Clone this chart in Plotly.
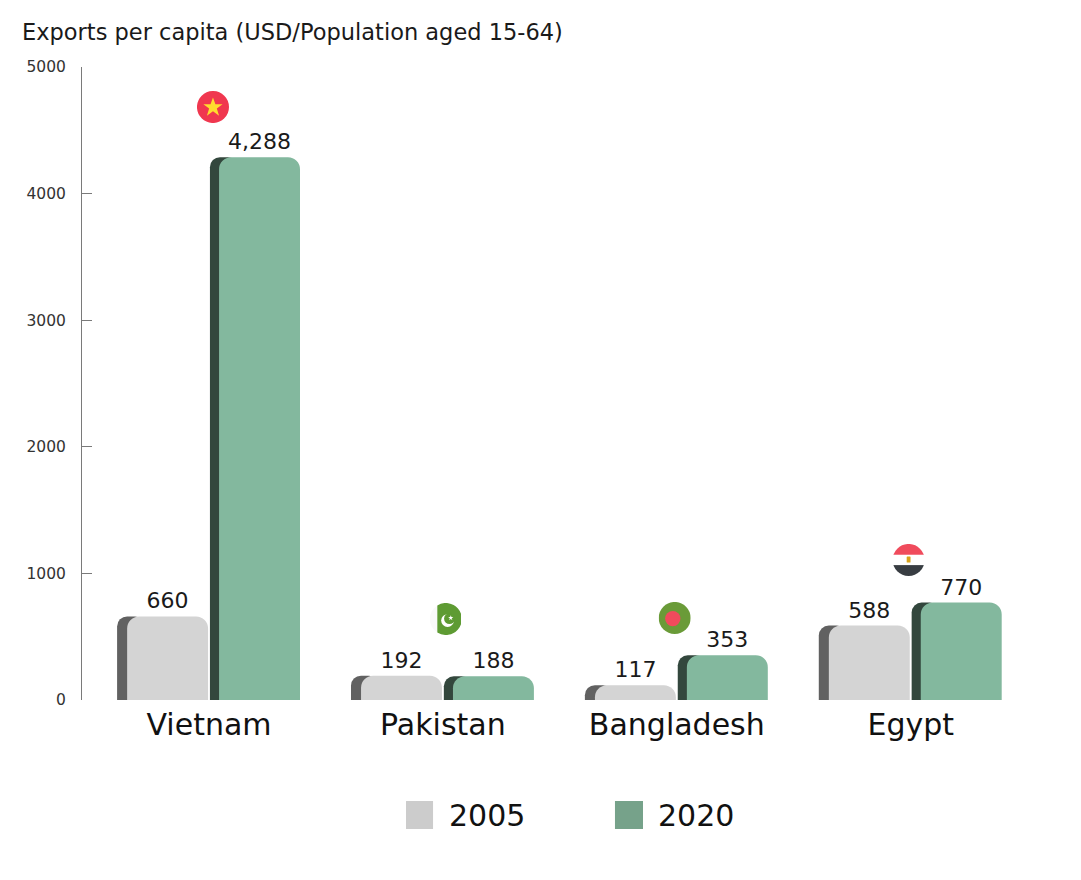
import base64
import plotly.graph_objects as go

# data
countries = ["Vietnam", "Pakistan", "Bangladesh", "Egypt"]
years = ["2005", "2020"]
exports_2005 = [660, 192, 117, 588]
exports_2020 = [4288, 188, 353, 770]
y_ticks = [0, 1000, 2000, 3000, 4000, 5000]

# face / side colours per year
face_colors = {"2005": "#d4d4d4", "2020": "#83b89e"}
side_colors = {"2005": "#616161", "2020": "#33473d"}
legend_colors = {"2005": "#cccccc", "2020": "#76a28a"}

FONT = "DejaVu Sans"

# small round flags as svg
FLAG_SVG = {
    "Vietnam": (
        "<svg xmlns='http://www.w3.org/2000/svg' viewBox='0 0 100 100'>"
        "<circle cx='50' cy='50' r='50' fill='#f0374f'/>"
        "<polygon points='50,20 57.6,41.5 80,41.5 62,55 69,77 50,63.5 31,77 38,55 20,41.5 42.4,41.5' fill='#ffdc2e'/>"
        "</svg>"
    ),
    "Pakistan": (
        "<svg xmlns='http://www.w3.org/2000/svg' viewBox='0 0 100 100'>"
        "<path d='M26,7.6 A50,50 0 0,0 26,92.4 Z' fill='#f9f9f9'/>"
        "<path d='M26,7.6 A50,50 0 1,1 26,92.4 Z' fill='#5e9b33'/>"
        "<circle cx='58' cy='55' r='20' fill='#ffffff'/>"
        "<circle cx='64' cy='49' r='17' fill='#5e9b33'/>"
        "<polygon points='68,38 70,44 76,44 71,48 73,54 68,50 63,54 65,48 60,44 66,44' fill='#ffffff'/>"
        "</svg>"
    ),
    "Bangladesh": (
        "<svg xmlns='http://www.w3.org/2000/svg' viewBox='0 0 100 100'>"
        "<circle cx='50' cy='50' r='50' fill='#6a9b38'/>"
        "<circle cx='44' cy='52' r='24' fill='#f04b5c'/>"
        "</svg>"
    ),
    "Egypt": (
        "<svg xmlns='http://www.w3.org/2000/svg' viewBox='0 0 100 100'>"
        "<defs><clipPath id='c'><circle cx='50' cy='50' r='50'/></clipPath></defs>"
        "<g clip-path='url(#c)'>"
        "<rect x='0' y='0' width='100' height='34' fill='#f04b5c'/>"
        "<rect x='0' y='34' width='100' height='32' fill='#ffffff'/>"
        "<rect x='0' y='66' width='100' height='34' fill='#383d42'/>"
        "</g>"
        "<rect x='44' y='39' width='12' height='19' rx='2' fill='#d9a31a'/>"
        "</svg>"
    ),
}

xpos = list(range(len(countries)))

fig = go.Figure()

series = {"2005": exports_2005, "2020": exports_2020}
# bar placement inside each group (x units)
face_offset = {"2005": -0.350, "2020": 0.043}
side_offset = {"2005": -0.393, "2020": 0.004}

for yr in years:
    vals = series[yr]
    # dark side of the bar (the "3d" edge)
    fig.add_trace(go.Bar(
        x=xpos, y=vals,
        offset=side_offset[yr], width=0.12,
        marker=dict(color=side_colors[yr], line=dict(width=0), cornerradius=10),
        showlegend=False, hoverinfo="skip"
    ))
    # front face with the value label
    fig.add_trace(go.Bar(
        x=xpos, y=vals, name=yr,
        offset=face_offset[yr], width=0.346,
        marker=dict(color=face_colors[yr], line=dict(width=0), cornerradius=12),
        text=["{:,}".format(v) for v in vals],
        textposition="outside",
        constraintext="none",
        cliponaxis=False,
        textfont=dict(size=22, color="#1a1a1a", family=FONT),
        showlegend=False,
        hovertemplate="%{y:,}<extra>" + yr + "</extra>"
    ))

# flags above each group
flag_x = [0.017, 1.009, 1.991, 2.991]
flag_y = [4684, 640, 648, 1106]
for c, fx, fy in zip(countries, flag_x, flag_y):
    src = "data:image/svg+xml;base64," + base64.b64encode(FLAG_SVG[c].encode()).decode()
    fig.add_layout_image(dict(
        source=src, xref="x", yref="y",
        x=fx, y=fy, sizex=0.137, sizey=253,
        xanchor="center", yanchor="middle",
        sizing="contain", layer="above"
    ))

# hand made legend (big squares)
legend_items = [("2005", 0.3418, 0.3703, 0.385), ("2020", 0.5622, 0.5918, 0.6055)]
for yr, x0, x1, tx in legend_items:
    fig.add_shape(type="rect", xref="paper", yref="paper",
                  x0=x0, x1=x1, y0=-0.2038, y1=-0.1596,
                  fillcolor=legend_colors[yr], line=dict(width=0))
    fig.add_annotation(text=yr, xref="paper", yref="paper",
                       x=tx, y=-0.1817, xanchor="left", yanchor="middle",
                       showarrow=False,
                       font=dict(size=30, color="#111111", family=FONT))

# page has an 8px body margin, so everything is pulled up/left by 8px
fig.update_layout(
    width=1081, height=880,
    margin=dict(l=74, r=59, t=59, b=188),
    barmode="overlay",
    paper_bgcolor="white",
    plot_bgcolor="white",
    showlegend=False,
    font=dict(family=FONT, color="#222222"),
    title=dict(
        text="Exports per capita (USD/Population aged 15-64)",
        xref="container", yref="container",
        x=14 / 1081, xanchor="left",
        y=1 - 24 / 880, yanchor="middle",
        font=dict(size=22.5, color="#1a1a1a", family=FONT)
    ),
    xaxis=dict(
        range=[-0.543, 3.51],
        tickvals=xpos, ticktext=countries,
        tickfont=dict(size=30, color="#111111", family=FONT),
        showline=False, showgrid=False, zeroline=False,
        ticks="", ticklabelstandoff=4
    ),
    yaxis=dict(
        range=[0, 5000],
        tickvals=y_ticks,
        tickfont=dict(size=15.5, color="#333333", family=FONT),
        showline=True, linecolor="#7a7a7a", linewidth=1,
        ticks="inside", ticklen=10, tickcolor="#7a7a7a",
        ticklabelstandoff=12,
        showgrid=False, zeroline=False
    ),
)

fig.write_html("out.html")
